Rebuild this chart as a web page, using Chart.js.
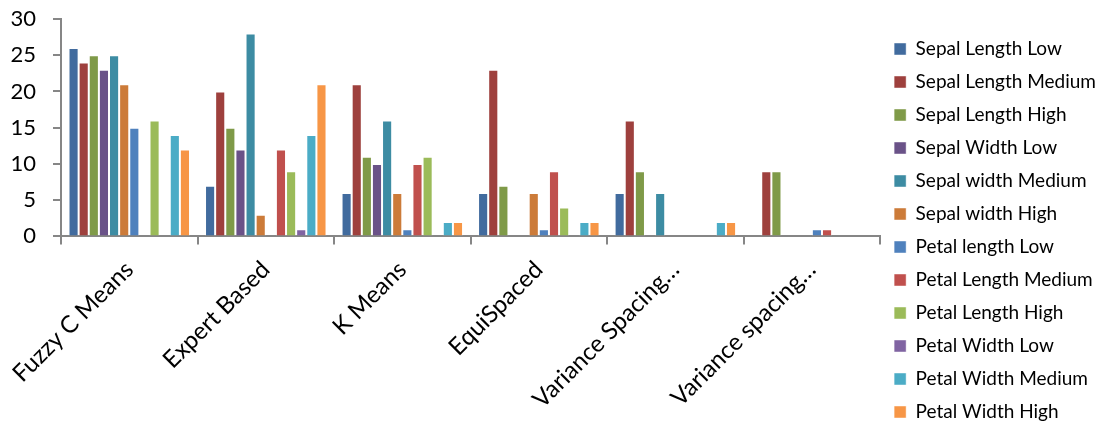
<!DOCTYPE html>
<html>
<head>
<meta charset="utf-8">
<script src="https://cdn.jsdelivr.net/npm/chart.js@4/dist/chart.umd.min.js"></script>
<style>
  html, body { margin: 0; padding: 0; background: #fff; }
  #wrap { width: 1100px; height: 425px; position: relative; }
</style>
</head>
<body>
<div id="wrap"><canvas id="chart"></canvas></div>
<script>
// categories on the x axis
const methods = ["Fuzzy C Means", "Expert Based", "K Means", "EquiSpaced", "Variance Spacing…", "Variance spacing…"];

// one series per attribute bin, values per method
const sepalLengthLow    = [26, 7, 6, 6, 6, 0];
const sepalLengthMedium = [24, 20, 21, 23, 16, 9];
const sepalLengthHigh   = [25, 15, 11, 7, 9, 9];
const sepalWidthLow     = [23, 12, 10, 0, 0, 0];
const sepalWidthMedium  = [25, 28, 16, 0, 6, 0];
const sepalWidthHigh    = [21, 3, 6, 6, 0, 0];
const petalLengthLow    = [15, 0, 1, 1, 0, 1];
const petalLengthMedium = [0, 12, 10, 9, 0, 1];
const petalLengthHigh   = [16, 9, 11, 4, 0, 0];
const petalWidthLow     = [0, 1, 0, 0, 0, 0];
const petalWidthMedium  = [14, 14, 2, 2, 2, 0];
const petalWidthHigh    = [12, 21, 2, 2, 2, 0];

const yTicks = [0, 5, 10, 15, 20, 25, 30];

const series = [
  ["Sepal Length Low", sepalLengthLow, "#416B9E"],
  ["Sepal Length Medium", sepalLengthMedium, "#9E403D"],
  ["Sepal Length High", sepalLengthHigh, "#7F9A48"],
  ["Sepal Width Low", sepalWidthLow, "#6A5288"],
  ["Sepal width Medium", sepalWidthMedium, "#3D8CA3"],
  ["Sepal width High", sepalWidthHigh, "#CC7B39"],
  ["Petal length Low", petalLengthLow, "#4F81BD"],
  ["Petal Length Medium", petalLengthMedium, "#C0504D"],
  ["Petal Length High", petalLengthHigh, "#9BBB59"],
  ["Petal Width Low", petalWidthLow, "#8064A2"],
  ["Petal Width Medium", petalWidthMedium, "#4BACC6"],
  ["Petal Width High", petalWidthHigh, "#F79646"]
];

const font = "Lato, 'Open Sans', sans-serif";

// nudge the legend column down a bit, like the original
const legendShift = {
  id: "legendShift",
  afterLayout(chart) {
    chart.legend.top += 18;
    chart.legend.bottom += 18;
  }
};

new Chart(document.getElementById("chart"), {
  type: "bar",
  data: {
    labels: methods,
    datasets: series.map(s => ({
      label: s[0],
      data: s[1],
      backgroundColor: s[2],
      borderColor: "rgba(255,255,255,0.45)",
      borderWidth: 1,
      categoryPercentage: 0.89,
      barPercentage: 1.0
    }))
  },
  options: {
    responsive: true,
    maintainAspectRatio: false,
    animation: false,
    layout: { padding: { top: 0, right: -6, left: 10, bottom: 0 } },
    plugins: {
      tooltip: { enabled: false },
      legend: {
        position: "right",
        labels: {
          font: { family: font, size: 19 },
          color: "#000",
          boxWidth: 12,
          boxHeight: 12,
          padding: 14
        }
      }
    },
    scales: {
      y: {
        min: 0,
        max: 30,
        afterBuildTicks: axis => { axis.ticks = yTicks.map(v => ({ value: v })); },
        afterFit: axis => { axis.width = 51; axis.paddingTop = 19; axis.paddingBottom = 0; },
        ticks: { font: { family: font, size: 22 }, color: "#000", padding: 17 },
        grid: { drawOnChartArea: false, drawTicks: true, tickLength: 8, color: "#868686", lineWidth: 2 },
        border: { display: true, color: "#868686", width: 2 }
      },
      x: {
        // let the first slanted label run under the y labels
        afterFit: axis => { axis.paddingLeft = 0; },
        ticks: {
          font: { family: font, size: 24 },
          color: "#000",
          minRotation: 45,
          maxRotation: 45,
          autoSkip: false,
          padding: 11
        },
        grid: { offset: true, drawOnChartArea: false, drawTicks: true, tickLength: 8, color: "#868686", lineWidth: 2 },
        border: { display: true, color: "#868686", width: 2 }
      }
    }
  },
  plugins: [legendShift]
});
</script>
</body>
</html>
